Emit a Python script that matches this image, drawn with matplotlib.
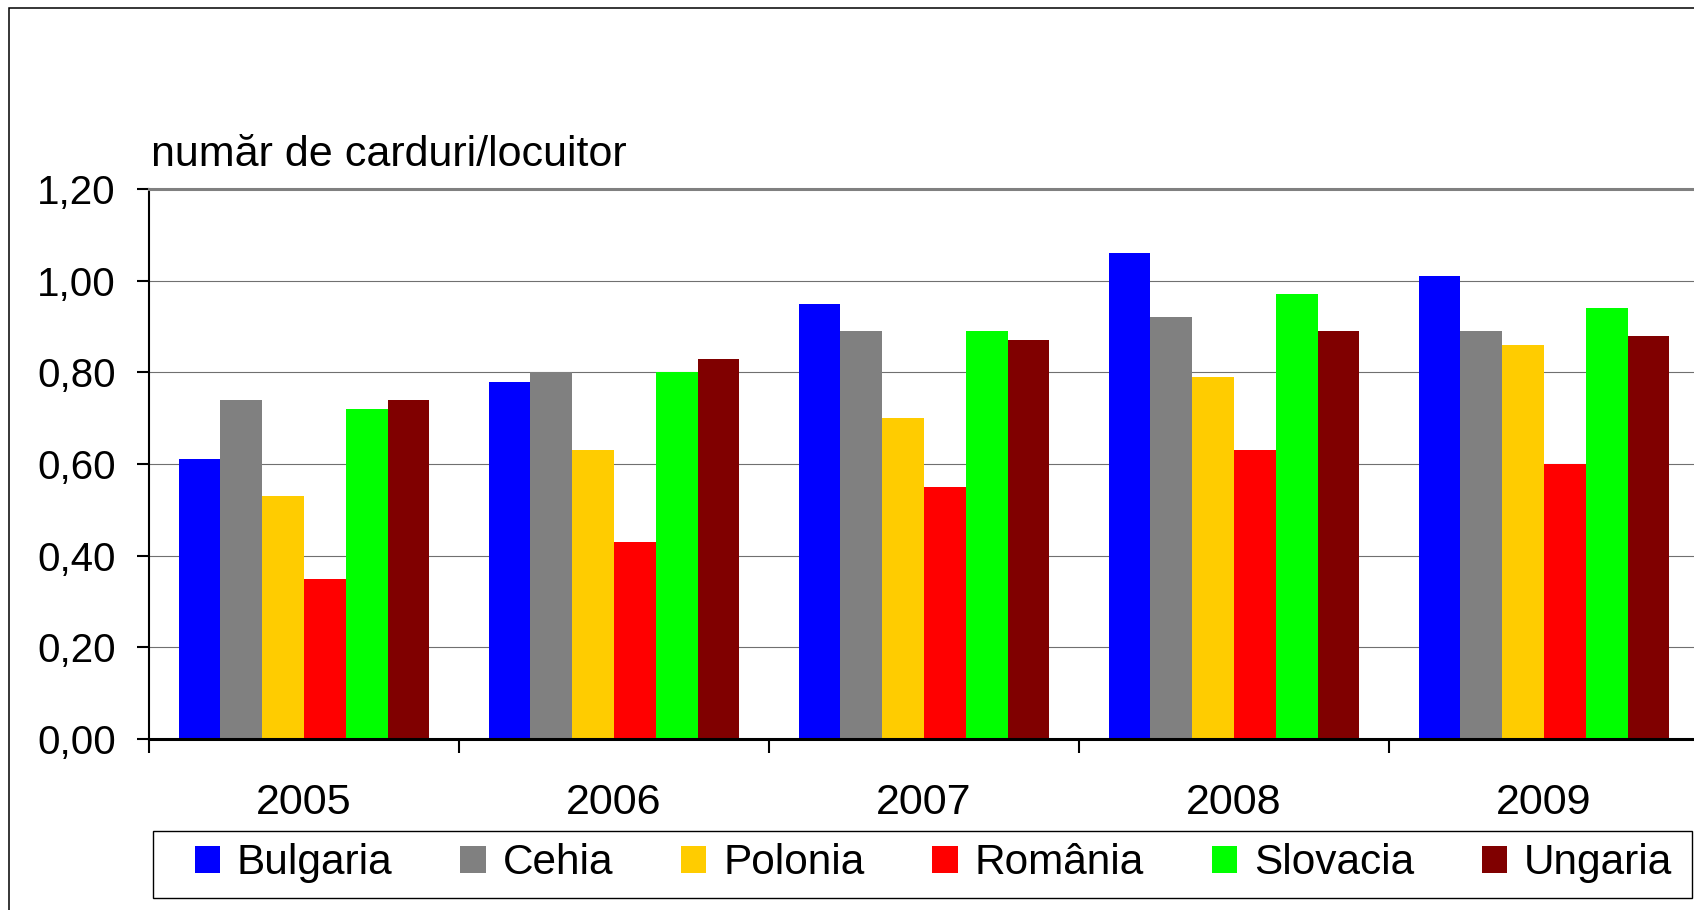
# Numar de carduri pe locuitor, 2005-2009, tari din regiune
import matplotlib
matplotlib.use('Agg')
import matplotlib.pyplot as plt
from matplotlib.patches import Rectangle
import numpy as np

plt.rcParams['font.family'] = ['Liberation Sans', 'DejaVu Sans']

# Date
years = ['2005', '2006', '2007', '2008', '2009']
countries = ['Bulgaria', 'Cehia', 'Polonia', 'România', 'Slovacia', 'Ungaria']
bulgaria = [0.61, 0.78, 0.95, 1.06, 1.01]
cehia = [0.74, 0.80, 0.89, 0.92, 0.89]
polonia = [0.53, 0.63, 0.70, 0.79, 0.86]
romania = [0.35, 0.43, 0.55, 0.63, 0.60]
slovacia = [0.72, 0.80, 0.89, 0.97, 0.94]
ungaria = [0.74, 0.83, 0.87, 0.89, 0.88]
series = [bulgaria, cehia, polonia, romania, slovacia, ungaria]
colors = ['#0000FF', '#808080', '#FFCC00', '#FF0000', '#00FF00', '#800000']

W, H = 1694, 910
fig = plt.figure(figsize=(W / 100, H / 100), dpi=100)
ax = fig.add_axes([149 / W, 1 - 739 / H, 1550 / W, 550 / H])

x = np.arange(len(years))
bw = 0.1347
for j, (vals, c) in enumerate(zip(series, colors)):
    ax.bar(x - 3 * bw + (j + 0.5) * bw, vals, width=bw, color=c,
           label=countries[j], zorder=2)

ax.set_xlim(-0.5, len(years) - 0.5)
ax.set_ylim(0, 1.2)
ax.set_yticks(np.arange(0, 1.21, 0.2))
ax.set_yticklabels([f'{v:.2f}'.replace('.', ',') for v in np.arange(0, 1.21, 0.2)])
ax.tick_params(axis='y', labelsize=29, length=9, width=1.5, pad=15)

# ticks intre categorii, etichete pe centru
ax.set_xticks(np.arange(-0.5, len(years), 1))
ax.set_xticklabels([])
ax.set_xticks(x, minor=True)
ax.set_xticklabels(years, minor=True)
ax.tick_params(axis='x', which='major', length=10, width=1.5)
ax.tick_params(axis='x', which='minor', length=0, labelsize=31, pad=32)

ax.grid(axis='y', color='#707070', linewidth=0.8, zorder=0)
ax.set_axisbelow(True)
ax.spines['right'].set_visible(False)
ax.spines['top'].set_color('#808080')
ax.spines['top'].set_linewidth(2.2)
ax.spines['left'].set_linewidth(1.5)
ax.spines['bottom'].set_linewidth(2.2)

fig.text(151 / W, 1 - 166 / H, 'număr de carduri/locuitor', fontsize=31,
         ha='left', va='baseline')

# legenda fara cadru + cadru separat
leg = fig.legend(loc='center', ncol=6, mode='expand',
                 bbox_to_anchor=(184 / W, 1 - 893 / H, 1499 / W, 60 / H),
                 fontsize=30.5, handlelength=0.6, handleheight=0.6,
                 handletextpad=0.4, borderpad=0.25, borderaxespad=0,
                 frameon=False)
fig.patches.append(Rectangle((153 / W, 1 - 898 / H), 1539 / W, 67 / H,
                             transform=fig.transFigure, fill=False,
                             edgecolor='black', linewidth=1.0))

# chenarul exterior
fig.patches.append(Rectangle((9 / W, -0.05), 1.1, 1 - 8 / H + 0.05,
                             transform=fig.transFigure, fill=False,
                             edgecolor='black', linewidth=1.1))

fig.savefig('out.png', dpi=100)
